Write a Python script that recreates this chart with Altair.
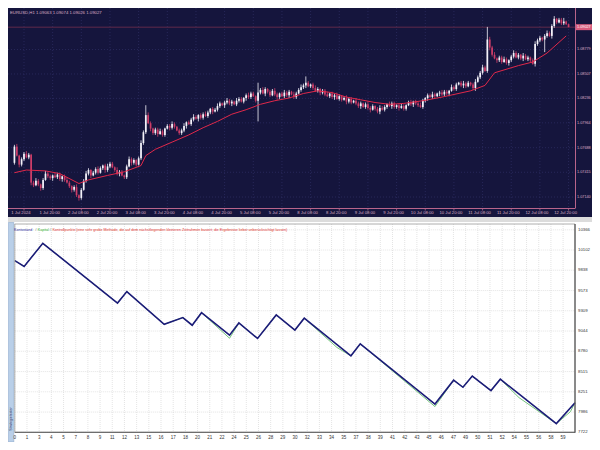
import pandas as pd
import altair as alt

FONT = "Liberation Sans"

# ================= top panel: EURUSD,H1 candles =================
chart_title = "EURUSD,H1  1.09063 1.09074 1.09026 1.09027"
first_open = 1.0752
closes = [
    1.0770, 1.0760, 1.0750, 1.0756, 1.0762, 1.0758, 1.0761, 1.0730, 1.0727, 1.0732,
    1.0728, 1.0724, 1.0733, 1.0740, 1.0737, 1.0735, 1.0738, 1.0736, 1.0739, 1.0734,
    1.0737, 1.0733, 1.0730, 1.0726, 1.0722, 1.0725, 1.0716, 1.0713, 1.0722, 1.0732,
    1.0740, 1.0744, 1.0738, 1.0741, 1.0745, 1.0741, 1.0746, 1.0749, 1.0744, 1.0748,
    1.0751, 1.0747, 1.0744, 1.0740, 1.0742, 1.0738, 1.0736, 1.0748, 1.0756, 1.0752,
    1.0755, 1.0750, 1.0757, 1.0774, 1.0786, 1.0805, 1.0796, 1.0790, 1.0785, 1.0789,
    1.0784, 1.0787, 1.0783, 1.0790, 1.0793, 1.0791, 1.0795, 1.0792, 1.0788, 1.0785,
    1.0788, 1.0793, 1.0797, 1.0795, 1.0800, 1.0803, 1.0801, 1.0805, 1.0802, 1.0806,
    1.0804, 1.0808, 1.0812, 1.0809, 1.0811, 1.0815, 1.0818, 1.0816, 1.0819, 1.0821,
    1.0818, 1.0820, 1.0817, 1.0821, 1.0823, 1.0820, 1.0824, 1.0827, 1.0825, 1.0829,
    1.0826, 1.0821, 1.0830, 1.0833, 1.0829, 1.0834, 1.0831, 1.0827, 1.0832, 1.0828,
    1.0825, 1.0829, 1.0826, 1.0830, 1.0827, 1.0831, 1.0828, 1.0825, 1.0829, 1.0833,
    1.0836, 1.0838, 1.0841, 1.0837, 1.0839, 1.0835, 1.0832, 1.0834, 1.0830, 1.0832,
    1.0828, 1.0826, 1.0829, 1.0825, 1.0827, 1.0823, 1.0826, 1.0822, 1.0824, 1.0820,
    1.0823, 1.0819, 1.0821, 1.0818, 1.0815, 1.0818, 1.0814, 1.0817, 1.0813, 1.0811,
    1.0815, 1.0812, 1.0809, 1.0813, 1.0811, 1.0814, 1.0817, 1.0815, 1.0818, 1.0814,
    1.0816, 1.0813, 1.0815, 1.0812, 1.0816, 1.0819, 1.0817, 1.0820, 1.0818, 1.0816,
    1.0814, 1.0821, 1.0824, 1.0827, 1.0825, 1.0828, 1.0826, 1.0829, 1.0830, 1.0828,
    1.0831, 1.0829, 1.0832, 1.0836, 1.0834, 1.0839, 1.0841, 1.0838, 1.0840, 1.0837,
    1.0841, 1.0839, 1.0835, 1.0842, 1.0847, 1.0852, 1.0858, 1.0854, 1.0889, 1.0880,
    1.0872, 1.0868, 1.0866, 1.0869, 1.0864, 1.0867, 1.0863, 1.0866, 1.0870, 1.0874,
    1.0869, 1.0872, 1.0868, 1.0871, 1.0867, 1.0869, 1.0866, 1.0862, 1.0884, 1.0888,
    1.0891, 1.0889, 1.0893, 1.0896, 1.0893, 1.0904, 1.0912, 1.0908, 1.0911, 1.0907,
    1.0909, 1.0906, 1.09027,
]
# wick lengths above / below the body, in pips (0.0001)
upper_wick_pips = [
    2, 3, 1, 2, 2, 3, 2, 1, 2, 3,   2, 1, 2, 3, 2, 2, 1, 3, 2, 2,
    1, 2, 3, 2, 1, 2, 3, 1, 2, 2,   3, 2, 1, 2, 2, 3, 2, 1, 2, 3,
    2, 2, 1, 3, 2, 2, 1, 2, 3, 2,   2, 1, 2, 3, 2, 11, 3, 2, 1, 2,
    2, 3, 2, 1, 2, 2, 3, 2, 1, 2,   2, 3, 1, 2, 2, 3, 2, 1, 2, 2,
    3, 2, 1, 2, 2, 3, 2, 1, 2, 3,   2, 2, 1, 3, 2, 2, 1, 2, 3, 2,
    2, 1, 11, 2, 3, 2, 1, 2, 2, 3,  2, 1, 2, 3, 2, 2, 1, 3, 2, 2,
    3, 2, 7, 2, 1, 2, 3, 2, 1, 2,   2, 3, 1, 2, 2, 3, 2, 1, 2, 3,
    2, 2, 1, 3, 2, 2, 1, 2, 3, 2,   2, 1, 2, 3, 2, 2, 1, 3, 2, 2,
    1, 2, 3, 2, 1, 2, 3, 1, 2, 2,   3, 2, 1, 2, 2, 3, 2, 1, 2, 3,
    2, 2, 1, 3, 2, 2, 1, 2, 3, 2,   2, 1, 2, 3, 2, 2, 3, 2, 14, 3,
    2, 3, 1, 2, 2, 3, 2, 1, 2, 3,   2, 2, 1, 3, 2, 2, 1, 2, 3, 2,
    2, 1, 2, 3, 2, 2, 3, 1, 2, 2,   4, 1, 0.5,
]
lower_wick_pips = [
    2, 1, 3, 2, 2, 1, 2, 3, 2, 1,   2, 3, 2, 1, 2, 2, 3, 1, 2, 2,
    3, 2, 1, 2, 3, 2, 2, 3, 2, 1,   2, 2, 3, 1, 2, 2, 1, 2, 3, 2,
    2, 1, 2, 2, 3, 1, 2, 2, 1, 3,   2, 2, 1, 2, 2, 2, 1, 3, 2, 2,
    3, 1, 2, 2, 1, 3, 2, 2, 1, 2,   2, 2, 3, 1, 2, 2, 1, 3, 2, 2,
    1, 2, 2, 3, 1, 2, 2, 1, 3, 2,   2, 3, 1, 2, 2, 1, 2, 3, 2, 2,
    1, 2, 23, 2, 1, 3, 2, 2, 1, 2,  3, 2, 1, 2, 2, 3, 1, 2, 2, 1,
    2, 2, 3, 1, 2, 2, 1, 2, 3, 2,   2, 1, 2, 2, 3, 1, 2, 2, 1, 3,
    2, 2, 1, 2, 2, 3, 1, 2, 2, 3,   1, 2, 2, 3, 1, 2, 2, 1, 3, 2,
    2, 3, 1, 2, 2, 1, 2, 3, 2, 2,   1, 2, 2, 3, 1, 2, 2, 1, 3, 2,
    2, 2, 3, 1, 2, 2, 1, 2, 3, 2,   1, 2, 2, 3, 1, 2, 2, 1, 2, 3,
    2, 1, 3, 2, 2, 1, 2, 3, 2, 2,   1, 2, 2, 3, 1, 2, 2, 1, 3, 2,
    2, 2, 14, 2, 1, 3, 2, 2, 1, 2,  2, 1, 0,
]
# moving average (red line), read at selected bars
ma_bar = [0, 5, 13, 19, 27, 31, 39, 46, 53, 55, 59, 66, 73, 79, 85, 91, 97, 103, 109, 115,
          121, 127, 133, 139, 145, 151, 157, 163, 171, 179, 191, 197, 201, 211, 217, 223, 231]
ma_price = [1.0741, 1.0744, 1.0743, 1.0740, 1.0729, 1.0733, 1.0738, 1.0742, 1.0749, 1.0760,
            1.0767, 1.0775, 1.0783, 1.0791, 1.0798, 1.0806, 1.0811, 1.0817, 1.0821, 1.0824,
            1.0829, 1.0832, 1.0830, 1.0825, 1.0822, 1.0819, 1.0817, 1.0818, 1.0821, 1.0825,
            1.0832, 1.0838, 1.0852, 1.0860, 1.0864, 1.0874, 1.0893]
time_labels = ["1 Jul 2024", "1 Jul 20:00", "2 Jul 08:00", "2 Jul 20:00", "3 Jul 08:00",
               "3 Jul 20:00", "4 Jul 08:00", "4 Jul 20:00", "5 Jul 08:00", "5 Jul 20:00",
               "8 Jul 08:00", "8 Jul 20:00", "9 Jul 08:00", "9 Jul 20:00", "10 Jul 08:00",
               "10 Jul 20:00", "11 Jul 08:00", "11 Jul 20:00", "12 Jul 08:00", "12 Jul 20:00"]
time_label_bars = [4, 16, 28, 40, 52, 64, 76, 88, 100, 112, 124, 136, 148, 160, 172, 184,
                   196, 208, 220, 232]
price_ticks = [1.08779, 1.08507, 1.08236, 1.07964, 1.07688, 1.07415, 1.07140]
last_price = 1.09027

# ================= bottom panel: tester graph =================
balance_trade = [0, 1, 3, 11, 12, 16, 18, 19, 20, 23, 24, 26, 28, 30, 31, 36, 37, 45, 47, 48,
                 49, 51, 52, 58, 60]
balance_value = [9963, 9888, 10190, 9409, 9560, 9132, 9220, 9120, 9283, 8990, 9149, 8947,
                 9254, 9057, 9212, 8720, 8877, 8091, 8402, 8310, 8456, 8267, 8415, 7835, 8109]
equity_trade = [0, 1, 3, 11, 12, 16, 18, 19, 20, 23, 24, 26, 28, 30, 31, 34.5, 36, 37, 45, 47,
                48, 49, 51, 52, 54, 58, 59.5, 60]
equity_value = [9963, 9888, 10190, 9409, 9560, 9132, 9220, 9120, 9283, 8950, 9149, 8947,
                9254, 9057, 9212, 8830, 8720, 8877, 8058, 8402, 8310, 8456, 8267, 8415, 8175,
                7835, 7990, 8109]
x_tick_labels = ["0", "1", "3", "4", "5", "7", "8", "9", "11", "12", "13", "15", "16", "17",
                 "18", "20", "21", "22", "24", "25", "26", "28", "29", "30", "32", "33", "34",
                 "35", "37", "38", "39", "41", "42", "43", "45", "46", "47", "49", "50", "51",
                 "52", "54", "55", "56", "58", "59"]
y_ticks = [10366, 10102, 9838, 9573, 9309, 9044, 8780, 8515, 8251, 7986, 7722]
legend_parts = ["Kontostand", "/", "Kapital", "/",
                "Kontrollpunkte (eine sehr grobe Methode, die auf dem nächstliegenden kleineren "
                "Zeitrahmen basiert; die Ergebnisse lieber unberücksichtigt lassen)"]

# ================= styling / layout =================
W, H = 584, 434
PR = 567            # right edge of both plot areas
TOP_B = 200         # bottom of price plot
NAVY_B = 209
SEP_B = 214
BOT_T, BOT_B = 216, 424.3
NAVY = "#15153d"
PINK_LINE = "#b8648a"
PINK_TEXT = "#dcaec4"
BULL = "#f4f2fa"
BEAR = "#cc3d68"
MA_RED = "#e0284a"
GREY_TEXT = "#333333"

opens = [first_open] + closes[:-1]
highs = [max(o, c) + u / 10000 for o, c, u in zip(opens, closes, upper_wick_pips)]
lows = [min(o, c) - l / 10000 for o, c, l in zip(opens, closes, lower_wick_pips)]
candles = pd.DataFrame({"bar": list(range(len(closes))), "open": opens, "close": closes,
                        "high": highs, "low": lows})
candles["dir"] = ["up" if c >= o else "down" for o, c in zip(opens, closes)]
ma_df = pd.DataFrame({"bar": ma_bar, "ma": ma_price})
one = pd.DataFrame({"k": [0]})
last_df = pd.DataFrame({"price": [last_price], "label": [f"{last_price:.5f}"]})
time_df = pd.DataFrame({"bar": time_label_bars, "label": time_labels})
price_df = pd.DataFrame({"price": price_ticks, "label": [f"{p:.5f}" for p in price_ticks]})

top_x = alt.Scale(domain=[-0.6, 232.6], range=[0, PR], nice=False, zero=False)
top_y = alt.Scale(domain=[1.07018, 1.09240], range=[TOP_B, 0], nice=False, zero=False)
candle_colors = alt.Scale(domain=["up", "down"], range=[BULL, BEAR])


def TX(field):
    return alt.X(field, scale=top_x, axis=None)


def TY(field):
    return alt.Y(field, scale=top_y, axis=None)


bg_top = alt.Chart(one).mark_rect(color=NAVY).encode(
    x=alt.value(0), x2=alt.value(W), y=alt.value(0), y2=alt.value(NAVY_B))
vgrid_top = alt.Chart(time_df).mark_rule(
    color="#34346c", strokeDash=[1, 2], strokeWidth=0.6).encode(
    x=TX("bar:Q"), y=alt.value(0), y2=alt.value(TOP_B))
hgrid_top = alt.Chart(price_df).mark_rule(
    color="#34346c", strokeDash=[1, 2], strokeWidth=0.6).encode(
    y=TY("price:Q"), x=alt.value(0), x2=alt.value(PR))
bid_line = alt.Chart(last_df).mark_rule(color="#74304e", strokeWidth=0.8).encode(
    y=TY("price:Q"), x=alt.value(0), x2=alt.value(PR))
wicks = alt.Chart(candles).mark_rule(strokeWidth=0.8).encode(
    x=TX("bar:Q"), y=TY("low:Q"), y2="high:Q",
    color=alt.Color("dir:N", scale=candle_colors, legend=None))
bodies = alt.Chart(candles).mark_bar(size=1.7, orient="vertical").encode(
    x=TX("bar:Q"), y=TY("open:Q"), y2="close:Q",
    color=alt.Color("dir:N", scale=candle_colors, legend=None))
ma_line = alt.Chart(ma_df).mark_line(color=MA_RED, strokeWidth=1).encode(
    x=TX("bar:Q"), y=TY("ma:Q"))
# time axis (bottom of price panel) and price axis (right)
time_axis_line = alt.Chart(one).mark_rule(color=PINK_LINE, strokeWidth=1).encode(
    x=alt.value(0), x2=alt.value(PR), y=alt.value(TOP_B + 0.5))
price_axis_line = alt.Chart(one).mark_rule(color=PINK_LINE, strokeWidth=1).encode(
    x=alt.value(PR + 0.5), y=alt.value(0), y2=alt.value(TOP_B + 0.5))
time_ticks = alt.Chart(time_df).mark_rule(color=PINK_LINE, strokeWidth=0.8).encode(
    x=TX("bar:Q"), y=alt.value(TOP_B), y2=alt.value(TOP_B + 2.5))
time_tick_labels = alt.Chart(time_df).mark_text(
    align="center", baseline="middle", fontSize=4.2, font=FONT, color=PINK_TEXT, dx=-3).encode(
    x=TX("bar:Q"), y=alt.value(204.5), text="label:N")
price_tick_labels = alt.Chart(price_df).mark_text(
    align="left", baseline="middle", fontSize=3.8, font=FONT, color=PINK_TEXT).encode(
    y=TY("price:Q"), x=alt.value(PR + 2), text="label:N")
price_box = alt.Chart(last_df).mark_rule(color="#d85c7e", strokeWidth=6, strokeCap="butt").encode(
    y=TY("price:Q"), x=alt.value(PR + 1), x2=alt.value(W))
price_box_text = alt.Chart(last_df).mark_text(
    align="left", baseline="middle", fontSize=3.8, font=FONT, color="#ffffff").encode(
    y=TY("price:Q"), x=alt.value(PR + 2), text="label:N")
title_text = alt.Chart(one).mark_text(
    align="left", baseline="middle", fontSize=4.3, font=FONT, color=PINK_TEXT).encode(
    x=alt.value(2), y=alt.value(5), text=alt.value(chart_title))

top = alt.layer(bg_top, vgrid_top, hgrid_top, bid_line, wicks, bodies, ma_line,
                time_axis_line, price_axis_line, time_ticks, time_tick_labels,
                price_tick_labels, price_box, price_box_text, title_text)

# ---- bottom panel ----
step = 1.305   # trades between two x labels (labels are evenly spaced in pixels)
xlab_df = pd.DataFrame({"t": [j * step for j in range(len(x_tick_labels))],
                        "label": x_tick_labels})
ylab_df = pd.DataFrame({"v": y_ticks, "label": [str(v) for v in y_ticks]})
bot_x = alt.Scale(domain=[0, 60], range=[6.8, PR], nice=False, zero=False)
bot_y = alt.Scale(domain=[7722, 10366], range=[BOT_B, 221.8], nice=False, zero=False)


def BX(field):
    return alt.X(field, scale=bot_x, axis=None)


def BY(field):
    return alt.Y(field, scale=bot_y, axis=None)


sep = alt.Chart(one).mark_rect(color="#dcdcdc").encode(
    x=alt.value(0), x2=alt.value(W), y=alt.value(NAVY_B), y2=alt.value(SEP_B))
panel_bg = alt.Chart(one).mark_rect(color="#ffffff").encode(
    x=alt.value(6), x2=alt.value(W), y=alt.value(SEP_B), y2=alt.value(H))
tab = alt.Chart(one).mark_rect(fill="#b9cfe8", stroke="#8fa9c9", strokeWidth=0.6).encode(
    x=alt.value(0.3), x2=alt.value(5.8), y=alt.value(SEP_B + 0.5), y2=alt.value(H))
tab_text = alt.Chart(one).mark_text(
    angle=270, align="center", baseline="middle", fontSize=3.6, font=FONT,
    color="#1d2a55").encode(x=alt.value(3), y=alt.value(411), text=alt.value("Strategietester"))
vgrid_bot = alt.Chart(xlab_df).mark_rule(
    color="#d2d2d2", strokeDash=[1, 1], strokeWidth=0.6).encode(
    x=BX("t:Q"), y=alt.value(BOT_T), y2=alt.value(BOT_B))
hgrid_bot = alt.Chart(ylab_df).mark_rule(
    color="#d2d2d2", strokeDash=[1, 1], strokeWidth=0.6).encode(
    y=BY("v:Q"), x=alt.value(6.8), x2=alt.value(PR))
equity_line = alt.Chart(pd.DataFrame({"t": equity_trade, "v": equity_value})).mark_line(
    color="#74c47c", strokeWidth=1).encode(x=BX("t:Q"), y=BY("v:Q"))
balance_line = alt.Chart(pd.DataFrame({"t": balance_trade, "v": balance_value})).mark_line(
    color="#1b1b78", strokeWidth=1.6).encode(x=BX("t:Q"), y=BY("v:Q"))
frame = alt.Chart(one).mark_rect(fillOpacity=0, stroke="#9a9a9a", strokeWidth=0.8).encode(
    x=alt.value(6.8), x2=alt.value(PR), y=alt.value(BOT_T), y2=alt.value(BOT_B))
frame_right = alt.Chart(one).mark_rule(color="#3c3c3c", strokeWidth=1).encode(
    x=alt.value(PR), y=alt.value(BOT_T), y2=alt.value(BOT_B + 0.5))
frame_bottom = alt.Chart(one).mark_rule(color="#5a5a5a", strokeWidth=1).encode(
    x=alt.value(6.8), x2=alt.value(PR), y=alt.value(BOT_B))
x_labels = alt.Chart(xlab_df).mark_text(
    align="center", baseline="middle", fontSize=4.5, font=FONT, color=GREY_TEXT).encode(
    x=BX("t:Q"), y=alt.value(430), text="label:N")
y_labels = alt.Chart(ylab_df).mark_text(
    align="left", baseline="middle", fontSize=4.3, font=FONT, color=GREY_TEXT).encode(
    y=BY("v:Q"), x=alt.value(PR + 3), text="label:N")

legend_colors = ["#2a2aa0", "#707070", "#2fb22f", "#707070", "#e0302c"]
legend_x = [6.0, 27.4, 29.8, 41.9, 44.4]
legend_layers = [
    alt.Chart(one).mark_text(align="left", baseline="middle", fontSize=3.6, font=FONT,
                             color=col).encode(x=alt.value(px), y=alt.value(222),
                                               text=alt.value(txt))
    for txt, col, px in zip(legend_parts, legend_colors, legend_x)
]

bottom = alt.layer(sep, panel_bg, tab, tab_text, vgrid_bot, hgrid_bot, equity_line,
                   balance_line, frame, frame_right, frame_bottom, x_labels, y_labels,
                   *legend_layers)

chart = alt.layer(top, bottom).resolve_scale(
    x="independent", y="independent", color="independent"
).properties(
    width=W, height=H, padding=0, background="#ffffff",
    autosize=alt.AutoSizeParams(type="none"),
).configure_view(stroke=None)

chart.save("out.html", embed_options={"renderer": "svg", "actions": False})
